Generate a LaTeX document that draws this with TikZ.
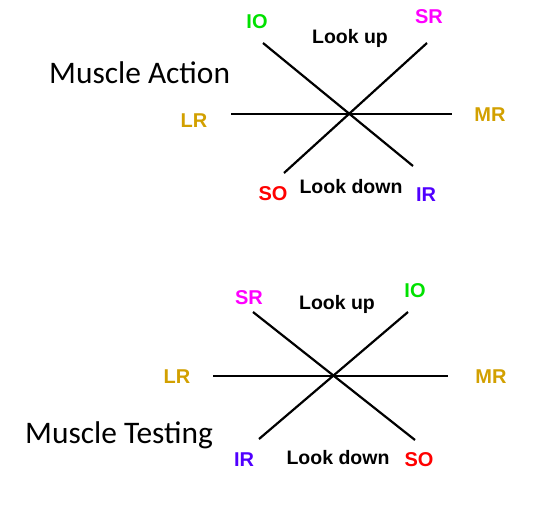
\documentclass[tikz,border=0pt]{standalone}
\usepackage{fontspec}
\setmainfont{Carlito}
\newfontfamily\lblfont{Liberation Sans}
\definecolor{cIO}{RGB}{0,225,0}
\definecolor{cSR}{RGB}{255,0,255}
\definecolor{cLR}{RGB}{210,160,0}
\definecolor{cSO}{RGB}{255,0,0}
\definecolor{cIR}{RGB}{80,0,255}
\tikzset{
  lbl/.style={inner sep=0pt, anchor=base, font=\lblfont\bfseries\fontsize{20}{24}\selectfont},
  look/.style={inner sep=0pt, anchor=base, font=\lblfont\bfseries\fontsize{19.5}{23}\selectfont},
  title/.style={inner sep=0pt, anchor=base west, font=\fontsize{31.4}{37}\selectfont},
  axis/.style={line width=2.2pt, black}
}
\begin{document}
\begin{tikzpicture}[x=1pt,y=-1pt]
\useasboundingbox (0,0) rectangle (541,512);
% ---- Muscle Action ----
\node[title] (t1) at (49,83) {Muscle Action};
\node[lbl, text=cIO] (io1) at (257,28) {IO};
\node[lbl, text=cSR] (sr1) at (429,23) {SR};
\node[look] (up1) at (350,43) {Look up};
\node[lbl, text=cLR] (lr1) at (194,127) {LR};
\node[lbl, text=cLR] (mr1) at (490,121) {MR};
\node[lbl, text=cSO] (so1) at (273,200) {SO};
\node[look] (dn1) at (351,193) {Look down};
\node[lbl, text=cIR] (ir1) at (426,201) {IR};
\coordinate (h1a) at (231,114);
\coordinate (h1b) at (452,114);
\coordinate (d1a) at (263,43);
\coordinate (d1b) at (413,166);
\coordinate (e1a) at (284,173);
\coordinate (e1b) at (427,43);
\draw[axis] (h1a) -- (h1b);
\draw[axis] (d1a) -- (d1b);
\draw[axis] (e1a) -- (e1b);
% ---- Muscle Testing ----
\node[title] (t2) at (25,443) {Muscle Testing};
\node[lbl, text=cSR] (sr2) at (249,304) {SR};
\node[look] (up2) at (337,309) {Look up};
\node[lbl, text=cIO] (io2) at (415,297) {IO};
\node[lbl, text=cLR] (lr2) at (177,383) {LR};
\node[lbl, text=cLR] (mr2) at (491,383) {MR};
\node[lbl, text=cIR] (ir2) at (244,466) {IR};
\node[look] (dn2) at (338,464) {Look down};
\node[lbl, text=cSO] (so2) at (419,466) {SO};
\coordinate (h2a) at (213,376);
\coordinate (h2b) at (448,376);
\coordinate (d2a) at (253,312);
\coordinate (d2b) at (415,440);
\coordinate (e2a) at (259,439);
\coordinate (e2b) at (408,312);
\draw[axis] (h2a) -- (h2b);
\draw[axis] (d2a) -- (d2b);
\draw[axis] (e2a) -- (e2b);
\end{tikzpicture}
\end{document}
